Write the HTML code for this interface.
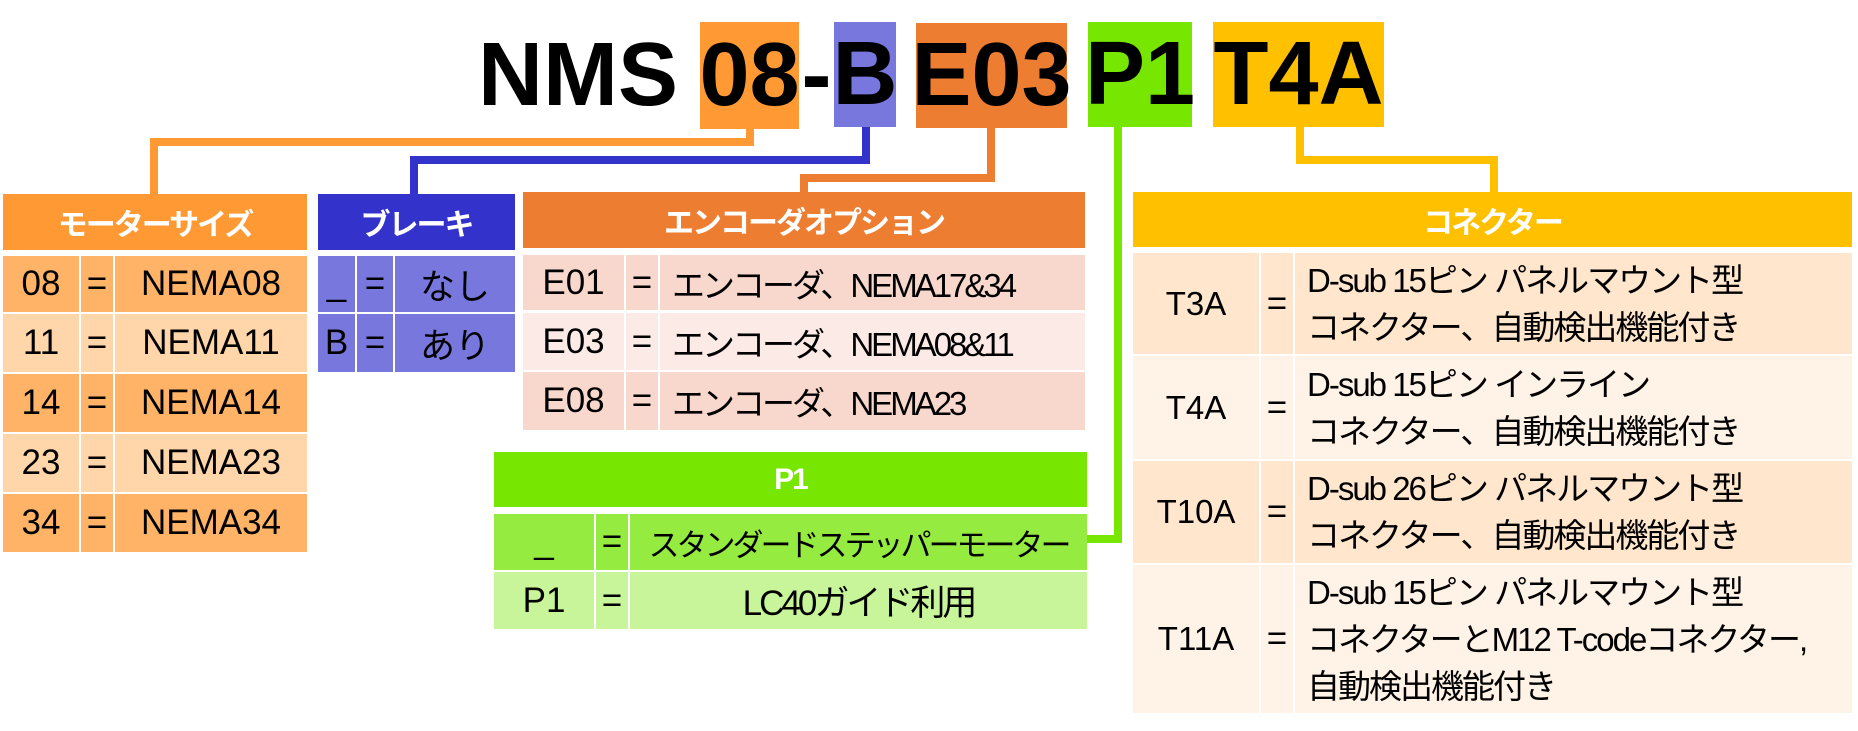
<!DOCTYPE html>
<html><head><meta charset="utf-8"><style>
body{margin:0;width:1858px;height:731px;background:#fff;position:relative;overflow:hidden;font-family:"Liberation Sans","Noto Sans CJK JP",sans-serif;}
.a{position:absolute;display:flex;align-items:center;justify-content:center;box-sizing:border-box;color:#000;font-size:35px;white-space:nowrap;}
.h{color:#fff;font-weight:bold;font-size:30px;letter-spacing:-2px;}
.l{position:absolute;}
.t{font-weight:bold;font-size:90px;}
.c{letter-spacing:-3px;}
.tl{justify-content:flex-start;padding-left:12px;line-height:47px;font-size:33px;white-space:normal;letter-spacing:-2px;}
</style></head><body>
<!-- title -->
<div class="a t" style="left:478px;top:22px;width:225px;height:106px;justify-content:flex-start">NMS</div>
<div class="a t" style="left:700px;top:22px;width:99px;height:107px;background:#FF9933">08</div>
<div class="a t" style="left:799px;top:22px;width:35px;height:106px">-</div>
<div class="a t" style="left:834px;top:22px;width:62px;height:105px;background:#7777DD">B</div>
<div class="a t" style="left:916px;top:23px;width:151px;height:105px;background:#ED7D31">E03</div>
<div class="a t" style="left:1088px;top:22px;width:104px;height:105px;background:#77E600">P1</div>
<div class="a t" style="left:1213px;top:22px;width:171px;height:105px;background:#FFC000">T4A</div>
<!-- connectors -->
<div class="l" style="left:746px;top:129px;width:8px;height:17px;background:#FF9933"></div>
<div class="l" style="left:150px;top:138px;width:604px;height:8px;background:#FF9933"></div>
<div class="l" style="left:150px;top:138px;width:8px;height:56px;background:#FF9933"></div>
<div class="l" style="left:862px;top:127px;width:8px;height:37px;background:#3333CC"></div>
<div class="l" style="left:410px;top:156px;width:460px;height:8px;background:#3333CC"></div>
<div class="l" style="left:410px;top:156px;width:8px;height:38px;background:#3333CC"></div>
<div class="l" style="left:987px;top:128px;width:8px;height:54px;background:#ED7D31"></div>
<div class="l" style="left:800px;top:174px;width:195px;height:8px;background:#ED7D31"></div>
<div class="l" style="left:800px;top:174px;width:8px;height:18px;background:#ED7D31"></div>
<div class="l" style="left:1114px;top:127px;width:8px;height:416px;background:#77E600"></div>
<div class="l" style="left:1087px;top:535px;width:35px;height:8px;background:#77E600"></div>
<div class="l" style="left:1296px;top:127px;width:8px;height:37px;background:#FFC000"></div>
<div class="l" style="left:1296px;top:156px;width:202px;height:8px;background:#FFC000"></div>
<div class="l" style="left:1490px;top:156px;width:8px;height:36px;background:#FFC000"></div>
<!-- motor size -->
<div class="a h" style="left:3px;top:194px;width:304px;height:56px;background:#FF9933">モーターサイズ</div>
<div class="a" style="left:3px;top:256px;width:76px;height:56px;background:#FFB366">08</div>
<div class="a" style="left:81px;top:256px;width:32px;height:56px;background:#FFB366">=</div>
<div class="a" style="left:115px;top:256px;width:192px;height:56px;background:#FFB366">NEMA08</div>
<div class="a" style="left:3px;top:314px;width:76px;height:58px;background:#FFD5AA">11</div>
<div class="a" style="left:81px;top:314px;width:32px;height:58px;background:#FFD5AA">=</div>
<div class="a" style="left:115px;top:314px;width:192px;height:58px;background:#FFD5AA">NEMA11</div>
<div class="a" style="left:3px;top:374px;width:76px;height:58px;background:#FFB366">14</div>
<div class="a" style="left:81px;top:374px;width:32px;height:58px;background:#FFB366">=</div>
<div class="a" style="left:115px;top:374px;width:192px;height:58px;background:#FFB366">NEMA14</div>
<div class="a" style="left:3px;top:434px;width:76px;height:58px;background:#FFD5AA">23</div>
<div class="a" style="left:81px;top:434px;width:32px;height:58px;background:#FFD5AA">=</div>
<div class="a" style="left:115px;top:434px;width:192px;height:58px;background:#FFD5AA">NEMA23</div>
<div class="a" style="left:3px;top:494px;width:76px;height:58px;background:#FFB366">34</div>
<div class="a" style="left:81px;top:494px;width:32px;height:58px;background:#FFB366">=</div>
<div class="a" style="left:115px;top:494px;width:192px;height:58px;background:#FFB366">NEMA34</div>
<!-- brake -->
<div class="a h" style="left:318px;top:194px;width:197px;height:56px;background:#3333CC">ブレーキ</div>
<div class="a" style="left:318px;top:256px;width:37px;height:56px;background:#7777DD">_</div>
<div class="a" style="left:357px;top:256px;width:36px;height:56px;background:#7777DD">=</div>
<div class="a" style="left:395px;top:256px;width:120px;height:56px;background:#7777DD">なし</div>
<div class="a" style="left:318px;top:314px;width:37px;height:58px;background:#7777DD">B</div>
<div class="a" style="left:357px;top:314px;width:36px;height:58px;background:#7777DD">=</div>
<div class="a" style="left:395px;top:314px;width:120px;height:58px;background:#7777DD">あり</div>
<!-- encoder -->
<div class="a h" style="left:523px;top:192px;width:562px;height:56px;background:#ED7D31">エンコーダオプション</div>
<div class="a" style="left:523px;top:255px;width:101px;height:55px;background:#F8D7CC">E01</div>
<div class="a" style="left:626px;top:255px;width:32px;height:55px;background:#F8D7CC">=</div>
<div class="a c" style="left:660px;top:255px;width:425px;height:55px;background:#F8D7CC;justify-content:flex-start;padding-left:12px;font-size:33px">エンコーダ、NEMA17&amp;34</div>
<div class="a" style="left:523px;top:313px;width:101px;height:57px;background:#FBEAE5">E03</div>
<div class="a" style="left:626px;top:313px;width:32px;height:57px;background:#FBEAE5">=</div>
<div class="a c" style="left:660px;top:313px;width:425px;height:57px;background:#FBEAE5;justify-content:flex-start;padding-left:12px;font-size:33px">エンコーダ、NEMA08&amp;11</div>
<div class="a" style="left:523px;top:372px;width:101px;height:58px;background:#F8D7CC">E08</div>
<div class="a" style="left:626px;top:372px;width:32px;height:58px;background:#F8D7CC">=</div>
<div class="a c" style="left:660px;top:372px;width:425px;height:58px;background:#F8D7CC;justify-content:flex-start;padding-left:12px;font-size:33px">エンコーダ、NEMA23</div>
<!-- P1 -->
<div class="a h" style="left:494px;top:452px;width:593px;height:55px;background:#77E600">P1</div>
<div class="a" style="left:494px;top:514px;width:100px;height:56px;background:#95EB40">_</div>
<div class="a" style="left:596px;top:514px;width:32px;height:56px;background:#95EB40">=</div>
<div class="a c" style="left:630px;top:514px;width:457px;height:56px;background:#95EB40;font-size:31px">スタンダードステッパーモーター</div>
<div class="a" style="left:494px;top:572px;width:100px;height:57px;background:#C8F59A">P1</div>
<div class="a" style="left:596px;top:572px;width:32px;height:57px;background:#C8F59A">=</div>
<div class="a c" style="left:630px;top:572px;width:457px;height:57px;background:#C8F59A">LC40ガイド利用</div>
<!-- connector -->
<div class="a h" style="left:1133px;top:192px;width:719px;height:55px;background:#FFC000">コネクター</div>
<div class="a" style="left:1133px;top:253px;width:126px;height:101px;background:#FFE6CC;font-size:33px">T3A</div>
<div class="a" style="left:1261px;top:253px;width:32px;height:101px;background:#FFE6CC">=</div>
<div class="a tl" style="left:1295px;top:253px;width:557px;height:101px;background:#FFE6CC">D-sub 15ピン パネルマウント型<br>コネクター、自動検出機能付き</div>
<div class="a" style="left:1133px;top:356px;width:126px;height:103px;background:#FFF2E6;font-size:33px">T4A</div>
<div class="a" style="left:1261px;top:356px;width:32px;height:103px;background:#FFF2E6">=</div>
<div class="a tl" style="left:1295px;top:356px;width:557px;height:103px;background:#FFF2E6">D-sub 15ピン インライン<br>コネクター、自動検出機能付き</div>
<div class="a" style="left:1133px;top:461px;width:126px;height:102px;background:#FFE6CC;font-size:33px">T10A</div>
<div class="a" style="left:1261px;top:461px;width:32px;height:102px;background:#FFE6CC">=</div>
<div class="a tl" style="left:1295px;top:461px;width:557px;height:102px;background:#FFE6CC">D-sub 26ピン パネルマウント型<br>コネクター、自動検出機能付き</div>
<div class="a" style="left:1133px;top:565px;width:126px;height:148px;background:#FFF2E6;font-size:33px">T11A</div>
<div class="a" style="left:1261px;top:565px;width:32px;height:148px;background:#FFF2E6">=</div>
<div class="a tl" style="left:1295px;top:565px;width:557px;height:148px;background:#FFF2E6">D-sub 15ピン パネルマウント型<br>コネクターとM12 T-codeコネクター,<br>自動検出機能付き</div>
</body></html>
